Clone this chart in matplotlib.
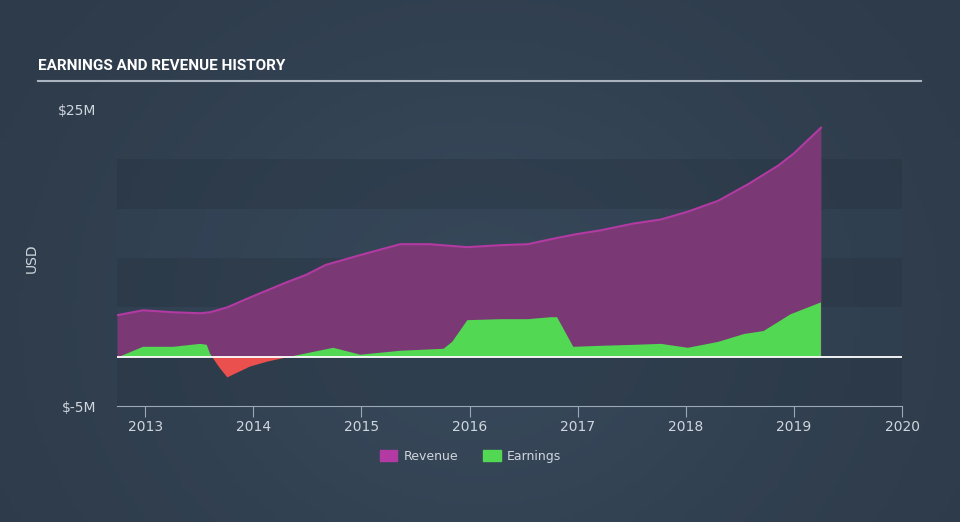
import matplotlib.pyplot as plt
import matplotlib.patches as mpatches
import numpy as np

# revenue history (USD millions)
rev_x = [2012.74, 2012.98, 2013.26, 2013.51, 2013.60, 2013.76, 2013.97, 2014.30, 2014.49,
         2014.67, 2014.99, 2015.36, 2015.63, 2015.98, 2016.29, 2016.54, 2016.75, 2016.98,
         2017.21, 2017.52, 2017.77, 2018.02, 2018.30, 2018.58, 2018.86, 2019.0, 2019.25]
rev_y = [4.2, 4.7, 4.5, 4.4, 4.5, 5.0, 6.0, 7.5, 8.3, 9.3, 10.3, 11.4, 11.4, 11.1, 11.3,
         11.4, 11.9, 12.4, 12.8, 13.5, 13.9, 14.7, 15.8, 17.5, 19.4, 20.6, 23.2]

# earnings history (USD millions)
earn_x = [2012.74, 2012.98, 2013.26, 2013.51, 2013.57, 2013.60, 2013.68, 2013.76, 2013.97,
          2014.13, 2014.34, 2014.74, 2014.99, 2015.36, 2015.76, 2015.84, 2015.98, 2016.29,
          2016.54, 2016.75, 2016.81, 2016.96, 2017.21, 2017.52, 2017.77, 2018.02, 2018.30,
          2018.54, 2018.72, 2018.97, 2019.25]
earn_y = [-0.1, 1.0, 1.0, 1.3, 1.2, 0.3, -1.0, -2.1, -1.0, -0.5, 0.0, 0.9, 0.2, 0.6, 0.8,
          1.5, 3.7, 3.8, 3.8, 4.0, 4.0, 1.0, 1.1, 1.2, 1.3, 0.9, 1.5, 2.3, 2.6, 4.3, 5.5]

years = [2013, 2014, 2015, 2016, 2017, 2018, 2019, 2020]

fig = plt.figure(figsize=(9.6, 5.22), dpi=100)

# background gradient, darker at the edges
bg = fig.add_axes([0, 0, 1, 1], zorder=-10)
gx = np.linspace(0, 1, 200)
gy = np.linspace(0, 1, 120)
GX, GY = np.meshgrid(gx, gy)
shade = np.exp(-((GX - 0.5) ** 2) / 0.15 - ((GY - 0.6) ** 2) / 0.4)
c0 = np.array([0x2d, 0x3a, 0x49]) / 255
c1 = np.array([0x37, 0x48, 0x5a]) / 255
img = c0 + shade[..., None] * (c1 - c0)
bg.imshow(img, aspect='auto', extent=[0, 1, 0, 1])
bg.axis('off')

ax = fig.add_axes([0.1219, 0.2222, 0.8177, 0.5671])
ax.patch.set_alpha(0)

# subtle horizontal bands
for lo in [-5, 5, 15]:
    ax.axhspan(lo, lo + 5, color='#283543', alpha=0.45, lw=0, zorder=0)
for lo in [0, 10]:
    ax.axhspan(lo, lo + 5, color='#334456', alpha=0.3, lw=0, zorder=0)

ax.fill_between(rev_x, 0, rev_y, color='#7a3975', lw=0, zorder=2)
ax.plot(rev_x, rev_y, color='#b23aa2', lw=1.5, zorder=3)

ex = np.array(earn_x)
ey = np.array(earn_y)
ax.fill_between(ex, 0, ey, where=ey >= 0, interpolate=True, color='#52d853', lw=0, zorder=4)
ax.fill_between(ex, 0, ey, where=ey <= 0, interpolate=True, color='#e9504e', lw=0, zorder=4)

ax.axhline(0, color='white', lw=1.3, zorder=5)

ax.set_xlim(2012.74, 2020.0)
ax.set_ylim(-5, 25)
ax.set_yticks([-5, 25])
ax.set_yticklabels(['$-5M', '$25M'])
ax.set_xticks(years)
ax.set_xticklabels([str(y) for y in years])

for s in ['top', 'right', 'left']:
    ax.spines[s].set_visible(False)
ax.spines['bottom'].set_color('#9aa8b8')
ax.tick_params(axis='x', colors='#9aa8b8', labelcolor='#d0d6de', length=8, labelsize=10, pad=2)
ax.tick_params(axis='y', length=0, labelcolor='#d0d6de', labelsize=10, pad=15)
ax.set_ylabel('USD', color='#d0d6de', fontsize=10, labelpad=14)

# title and underline
fig.text(0.040, 0.866, 'EARNINGS AND REVENUE HISTORY', color='white', fontsize=11,
         fontweight='bold', family=['Roboto', 'DejaVu Sans'])
fig.add_artist(plt.Line2D([0.040, 0.959], [0.845, 0.845], color='#aab4c0', lw=1.5))

handles = [mpatches.Patch(color='#b23aa2', label='Revenue'),
           mpatches.Patch(color='#52d853', label='Earnings')]
leg = fig.legend(handles=handles, loc='center', bbox_to_anchor=(0.49, 0.126), ncol=2,
                 frameon=False, fontsize=9, handlelength=1.4, handleheight=1.0,
                 columnspacing=2.0, handletextpad=0.5)
for t in leg.get_texts():
    t.set_color('#d0d6de')

fig.savefig('out.png', dpi=100)
